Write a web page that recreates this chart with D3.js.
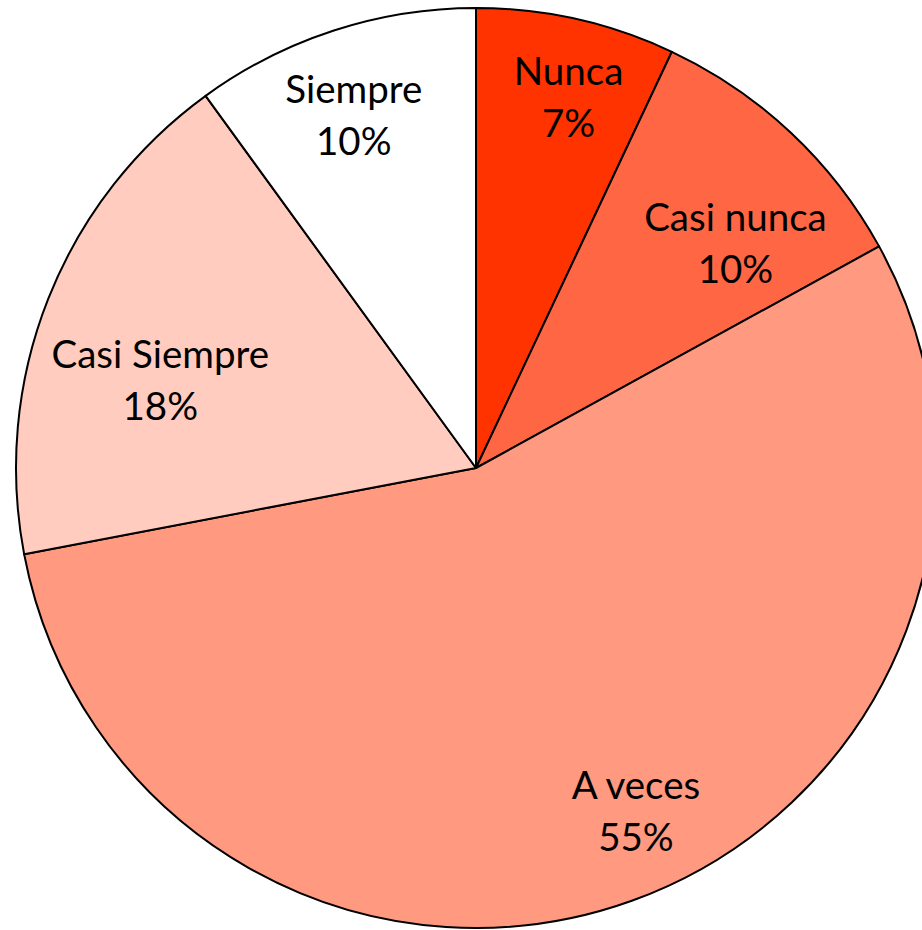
<!DOCTYPE html>
<html>
<head>
<meta charset="utf-8">
<script src="https://cdn.jsdelivr.net/npm/d3@7"></script>
<style>
  html, body { margin: 0; padding: 0; background: #fff; }
  svg { display: block; }
</style>
</head>
<body>
<svg id="chart" width="922" height="930"></svg>
<script>
// Survey answer categories, clockwise from 12 o'clock
const categories = ["Nunca", "Casi nunca", "A veces", "Casi Siempre", "Siempre"];
// Percentage of responses per category
const values = [7, 10, 55, 18, 10];
// Slice fills
const colors = ["#ff3300", "#ff6644", "#ff9980", "#ffccbf", "#ffffff"];

// Small label nudges from the default label ring, in pixels
const labelNudge = [[14, -18], [13, 39], [38, 6], [19, 46], [-11, -9]];

const width = 922, height = 930;
const cx = 476, cy = 468, radius = 460;
const labelRadius = 360;
const fontSize = 38.5, lineGap = 52;

const svg = d3.select("#chart");
const g = svg.append("g").attr("transform", `translate(${cx},${cy})`);

const data = categories.map((c, i) => ({ name: c, value: values[i], color: colors[i] }));

const pie = d3.pie().value(d => d.value).sort(null);
const arcs = pie(data);

const arc = d3.arc().innerRadius(0).outerRadius(radius);
const labelArc = d3.arc().innerRadius(labelRadius).outerRadius(labelRadius);

g.selectAll("path.slice")
  .data(arcs)
  .join("path")
  .attr("class", "slice")
  .attr("d", arc)
  .attr("fill", d => d.data.color)
  .attr("stroke", "#000")
  .attr("stroke-width", 2)
  .attr("stroke-linejoin", "round");

const labels = g.selectAll("text.lbl")
  .data(arcs)
  .join("text")
  .attr("class", "lbl")
  .attr("transform", (d, i) => {
    const [x, y] = labelArc.centroid(d);
    return `translate(${x + labelNudge[i][0]},${y + labelNudge[i][1]})`;
  })
  .attr("text-anchor", "middle")
  .attr("font-family", "Lato, 'Open Sans', sans-serif")
  .attr("font-size", fontSize)
  .attr("fill", "#000");

labels.append("tspan")
  .attr("x", 0)
  .attr("y", -lineGap / 2 + 12.5)
  .text(d => d.data.name);

labels.append("tspan")
  .attr("x", 0)
  .attr("y", lineGap / 2 + 12.5)
  .text(d => d3.format(".0f")(d.data.value) + "%");
</script>
</body>
</html>
